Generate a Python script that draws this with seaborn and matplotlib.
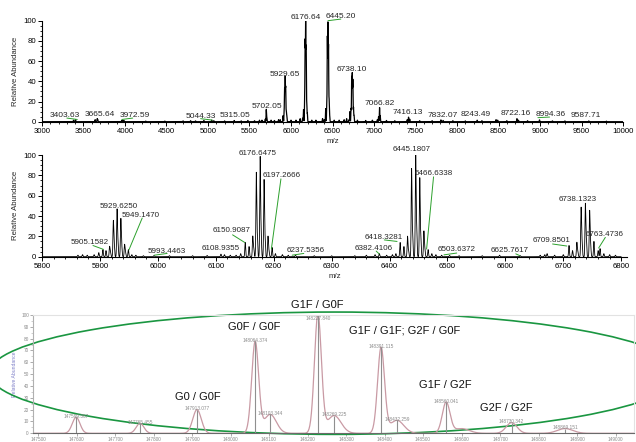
import numpy as np
import pandas as pd
import matplotlib
matplotlib.use("Agg")
import matplotlib.pyplot as plt
import seaborn as sns
from matplotlib.patches import Ellipse
from matplotlib.ticker import MultipleLocator

# ---------------- data: panel 1 (full m/z range) ----------------
full_mz = [3380, 3403.6, 3640, 3665.6, 3672, 3960, 3972.6, 3990, 4250, 4480, 4700, 4790, 4850, 4950,
           5044.3, 5070, 5200, 5315.1, 5400, 5480, 5560, 5620, 5650, 5690, 5702.1, 5708, 5760, 5800,
           5850, 5870, 5905, 5917, 5923, 5929.7, 5936, 5943, 5949, 6000, 6060, 6110, 6140, 6151, 6164,
           6170, 6176.6, 6183, 6190, 6197, 6250, 6300, 6380, 6400, 6418, 6431, 6438, 6445.2, 6452, 6459,
           6466, 6520, 6580, 6640, 6670, 6700, 6710, 6723, 6731, 6738.1, 6745, 6753, 6760, 6800, 6900,
           6980, 7040, 7055, 7066.8, 7075, 7150, 7250, 7400, 7416.1, 7430, 7550, 7700, 7806, 7832, 7950,
           8100, 8243, 8300, 8470, 8490, 8600, 8722, 8740, 8850, 8994, 9150, 9300, 9588, 9800]
full_int = [1.5, 2, 2, 3, 2, 1.2, 1.5, 1, 0.6, 0.6, 0.8, 1, 0.8, 1.2,
            1.5, 1, 0.8, 1.2, 0.8, 1.2, 1, 1.5, 1.5, 2.5, 12, 4, 1.5, 1.2,
            2, 2, 6, 9, 32, 43, 33, 11, 6, 1.5, 1.5, 3, 3.5, 12, 18,
            78, 98, 71, 18, 8, 1.5, 1.5, 3, 2, 13, 18, 83, 96, 74, 22,
            6, 1.5, 1.5, 2, 3, 2, 10, 13, 44, 47, 41, 14, 6, 1.5, 1.2,
            1.5, 2, 5, 14, 6, 1.2, 1, 2, 4.5, 2.5, 1, 1, 1.8, 1.2, 1,
            0.8, 1.5, 1, 2, 1.5, 1, 3, 1.5, 1, 1.8, 0.8, 0.8, 0.8, 0.5]
full_labels = ["3403.63", "3665.64", "3972.59", "5044.33", "5315.05", "5702.05", "5929.65",
               "6176.64", "6445.20", "6738.10", "7066.82", "7416.13", "7832.07", "8243.49",
               "8722.16", "8994.36", "9587.71"]

# ---------------- data: panel 2 (zoom 5800-6800) ----------------
zoom_mz = [5862, 5870, 5878, 5890, 5898, 5905.16, 5910.5, 5916.7, 5918.3, 5923.2, 5924.8, 5929.63,
           5931.2, 5936.1, 5937.7, 5942.6, 5944.2, 5949.15, 5955, 5962, 5975, 5993.45, 6020, 6060,
           6085, 6108.94, 6115, 6125, 6135, 6143, 6150.91, 6157.5, 6163.9, 6165.6, 6170.0, 6171.7,
           6176.65, 6178.3, 6183.4, 6185.1, 6190.2, 6191.9, 6197.27, 6203, 6215, 6225, 6237.54, 6270,
           6300, 6340, 6360, 6375, 6382.41, 6395, 6405, 6411, 6418.33, 6424.9, 6431.1, 6432.9, 6438.1,
           6439.9, 6445.18, 6446.9, 6452.2, 6454.0, 6459.3, 6461.0, 6466.63, 6473, 6480, 6490, 6503.64,
           6520, 6560, 6590, 6625.76, 6660, 6668, 6672, 6685, 6700, 6709.85, 6716, 6723.4, 6725.1,
           6730.8, 6732.5, 6738.13, 6739.9, 6745.5, 6747.2, 6752.9, 6760.2, 6763.47, 6770, 6780, 6790]
zoom_int = [1.5, 2, 1.5, 2, 4, 7, 6, 10, 4, 35, 11, 46,
            13, 37, 10, 12, 4, 7, 2, 1.5, 1, 1.2, 1, 1,
            1.2, 2.5, 2, 1.5, 1.5, 3, 14, 10, 20, 8, 82, 20,
            97, 25, 75, 18, 20, 6, 9, 3, 2, 1.5, 1.5, 1,
            1, 1, 1.5, 2, 3, 1.5, 2, 3, 14, 10, 20, 6, 86,
            22, 100, 27, 77, 20, 25, 8, 7, 3, 2, 1.5, 1.2,
            1, 1, 1.5, 1, 1.5, 2, 3, 1.5, 2, 11, 6, 14, 5,
            48, 14, 52, 16, 45, 12, 15, 6, 8, 3, 2, 1.5]
zoom_labels = ["5905.1582", "5929.6250", "5949.1470", "5993.4463", "6108.9355", "6150.9087",
               "6176.6475", "6197.2666", "6237.5356", "6382.4106", "6418.3281", "6445.1807",
               "6466.6338", "6503.6372", "6625.7617", "6709.8501", "6738.1323", "6763.4736"]

# ---------------- data: panel 3 (deconvoluted mass) ----------------
mass_centers = [147599, 147765, 147913, 148064, 148103, 148227, 148269, 148391, 148432,
                148560, 148600, 148730, 148869]
mass_heights = [13.5, 8.5, 20, 77, 16, 100, 15, 72, 11, 26, 4, 9, 4]
mass_widths = [10, 10, 11, 9, 16, 9, 18, 9, 18, 10, 20, 14, 20]
mass_labels = ["147599.367", "147765.455", "147913.077", "148064.374", "148103.344", "148227.840",
               "148269.225", "148391.115", "148432.259", "148560.041", "148730.342", "148869.151"]
mass_label_pos = [147599, 147765, 147913, 148064, 148103, 148227, 148269, 148391, 148432,
                  148560, 148730, 148869]
glyco_names = ["G0 / G0F", "G0F / G0F", "G1F / G0F", "G1F / G1F; G2F / G0F", "G1F / G2F", "G2F / G2F"]
mass_ticks = list(range(147500, 149001, 100))
pct_ticks = list(range(0, 101, 10))


def profile(grid, centers, heights, sigma):
    c = np.asarray(centers, float)[:, None]
    h = np.asarray(heights, float)[:, None]
    s = np.asarray(sigma, float)
    if s.ndim:
        s = s[:, None]
    return (h * np.exp(-0.5 * ((grid[None, :] - c) / s) ** 2)).sum(axis=0)


sns.set_style("ticks")
plt.rcParams["font.family"] = ["Liberation Sans", "DejaVu Sans"]
plt.rcParams.update({
    "axes.linewidth": 0.8, "axes.edgecolor": "black",
    "xtick.major.width": 0.7, "ytick.major.width": 0.7,
    "xtick.minor.width": 0.6, "ytick.minor.width": 0.6,
    "xtick.major.size": 3, "ytick.major.size": 3,
    "xtick.minor.size": 1.7, "ytick.minor.size": 1.7,
    "xtick.labelsize": 5.6, "ytick.labelsize": 5.6,
    "xtick.major.pad": 1.5, "ytick.major.pad": 1.2,
    "xtick.color": "black", "ytick.color": "black",
})

W, H = 636, 442
fig = plt.figure(figsize=(W / 100, H / 100), dpi=100)


def ax_px(l, t, r, b):
    return fig.add_axes([l / W, 1 - b / H, (r - l) / W, (b - t) / H])


GREEN = "#2ca02c"
LAB_FS = 6.0

# ---------------- panel 1 ----------------
ax1 = ax_px(42, 20.7, 623, 121.7)
g1 = np.arange(3000, 10000.01, 0.5)
df1 = pd.DataFrame({"mz": g1, "ab": profile(g1, full_mz, full_int, 2.5)})
sns.lineplot(data=df1, x="mz", y="ab", ax=ax1, color="black", lw=0.9, estimator=None, sort=False)
ax1.set_xlim(3000, 10000)
ax1.set_ylim(0, 100)
ax1.xaxis.set_major_locator(MultipleLocator(500))
ax1.xaxis.set_minor_locator(MultipleLocator(100))
ax1.yaxis.set_major_locator(MultipleLocator(20))
ax1.yaxis.set_minor_locator(MultipleLocator(5))
ax1.set_xlabel("m/z", fontsize=5.6, labelpad=2)
ax1.set_ylabel("Relative Abundance", fontsize=5.6, labelpad=3)
sns.despine(ax=ax1)
ax1.spines["left"].set_bounds(0, 100)

lab1_pos = [(3275, 6.6), (3694, 7.3), (4113, 6.0), (4911, 5.0), (5330, 6.6), (5708, 15.5),
            (5928, 47), (6183, 103), (6598, 104.6), (6737, 52), (7066, 18), (7404, 9.3),
            (7823, 6.6), (8230, 7.6), (8708, 8.3), (9123, 7.6), (9557, 6.0)]
for txt, (tx, ty) in zip(full_labels, lab1_pos):
    ax1.text(tx, ty, txt, fontsize=LAB_FS, ha="center", va="center", clip_on=False)
lead1 = [((3300, 3.6), (3425, 2.2)), ((4093, 3.6), (3962, 2.2)), ((4911, 3.0), (5050, 1.6)),
         ((6445, 100), (6600, 101.6)), ((8975, 4.0), (9115, 4.6))]
for (a, b) in lead1:
    ax1.plot([a[0], b[0]], [a[1], b[1]], color=GREEN, lw=0.7, clip_on=False)

# ---------------- panel 2 ----------------
ax2 = ax_px(42, 155, 627, 256.7)
g2 = np.arange(5800, 6800.01, 0.1)
df2 = pd.DataFrame({"mz": g2, "ab": profile(g2, zoom_mz, zoom_int, 0.7)})
sns.lineplot(data=df2, x="mz", y="ab", ax=ax2, color="black", lw=0.6, estimator=None, sort=False)
ax2.set_xlim(5800, 6810)
ax2.set_ylim(0, 100)
ax2.xaxis.set_major_locator(MultipleLocator(100))
ax2.xaxis.set_minor_locator(MultipleLocator(20))
ax2.yaxis.set_major_locator(MultipleLocator(20))
ax2.yaxis.set_minor_locator(MultipleLocator(5))
ax2.set_xlabel("m/z", fontsize=5.6, labelpad=2)
ax2.set_ylabel("Relative Abundance", fontsize=5.6, labelpad=3)
sns.despine(ax=ax2)

lab2_pos = [(5882, 14.4), (5932.5, 49), (5971, 41), (6015, 5.6), (6109, 7.6), (6126.5, 25.5),
            (6173, 101), (6213.7, 80), (6256, 6.0), (6372, 8.5), (6390, 19), (6437.6, 105),
            (6477, 81.6), (6516, 7.5), (6607.4, 6.0), (6679.5, 16), (6724.8, 56.6), (6771, 21.6)]
for txt, (tx, ty) in zip(zoom_labels, lab2_pos):
    ax2.text(tx, ty, txt, fontsize=5.8, ha="center", va="center", clip_on=False)
lead2 = [((5888, 11.0), (5906, 7.2)), ((5973, 38), (5950, 6.6)), ((5994, 1.5), (6016, 3.2)),
         ((6129, 21.5), (6150, 14)), ((6212.5, 76.5), (6196, 7.5)), ((6232, 1.5), (6252, 3.2)),
         ((6377, 5.5), (6382, 2.8)), ((6391, 16.5), (6413, 15)), ((6476, 78.5), (6464, 7.5)),
         ((6494, 1.8), (6516, 3.6)), ((6618, 2.8), (6625, 1.0)), ((6681.5, 12.5), (6706, 10.5)),
         ((6772.6, 19), (6761, 8.5))]
for (a, b) in lead2:
    ax2.plot([a[0], b[0]], [a[1], b[1]], color=GREEN, lw=0.7, clip_on=False)

# ---------------- panel 3 ----------------
ax3 = ax_px(33, 315, 634, 433.3)
g3 = np.arange(147487, 149048.01, 1.0)
prof3 = profile(g3, mass_centers, mass_heights, mass_widths)
df3 = pd.DataFrame({"mass": g3, "ab": prof3})
sns.lineplot(data=df3, x="mass", y="ab", ax=ax3, color="#c99aa4", lw=0.9, estimator=None, sort=False)
stick_h = np.interp(mass_label_pos, g3, prof3)
ax3.vlines(mass_label_pos, 0, stick_h, color="#8f8f8f", lw=0.8)
for txt, mx, hy in zip(mass_labels, mass_label_pos, stick_h):
    ax3.text(mx, min(hy - 1.5, 95), txt, fontsize=3.4, color="#8a8a8a", ha="center", va="bottom")
ax3.set_xlim(147487, 149048)
ax3.set_ylim(0, 100)
ax3.set_xticks(mass_ticks)
ax3.set_xticklabels([str(t) for t in mass_ticks])
ax3.set_yticks(pct_ticks)
ax3.yaxis.set_minor_locator(MultipleLocator(5))
ax3.tick_params(axis="both", labelsize=3.4, labelcolor="#8a8a8a", color="#8a8a8a",
                length=2, width=0.5, pad=1)
ax3.tick_params(axis="y", which="minor", length=1.2, width=0.4, color="#aaaaaa")
ax3.set_xlabel("")
ax3.set_ylabel("Relative Abundance", fontsize=3.6, color="#7f80c8", labelpad=3)
for side, col in (("top", "#e2e2e2"), ("right", "#e2e2e2"), ("left", "#b0b0b0"), ("bottom", "#6a6a6a")):
    ax3.spines[side].set_color(col)
    ax3.spines[side].set_linewidth(0.8)

glyco_pos = [(147914, 30.5), (148061, 90), (148225, 108.5), (148453, 86.7), (148557, 40.7), (148716, 21.8)]
for txt, (tx, ty) in zip(glyco_names, glyco_pos):
    ax3.text(tx, ty, txt, fontsize=8, ha="center", va="center", color="#111111", clip_on=False)

ell = Ellipse((148271, 50.8), width=1795, height=103.4, transform=ax3.transData,
              fill=False, edgecolor="#1a9641", lw=1.2, clip_on=False)
ax3.add_patch(ell)

fig.savefig("out.png", dpi=100)
